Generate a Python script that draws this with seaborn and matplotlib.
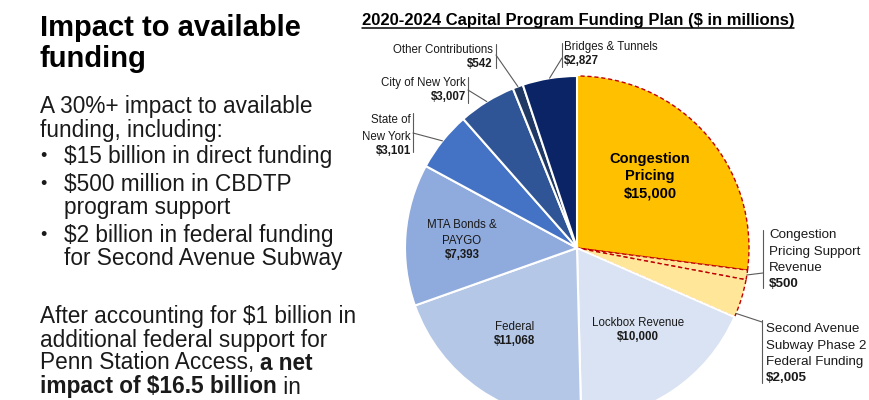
import numpy as np
import matplotlib
matplotlib.use("Agg")
import matplotlib.pyplot as plt
import seaborn as sns

# Funding sources, clockwise from 12 o'clock ($ in millions)
sources = [
    "Congestion\nPricing",
    "Congestion\nPricing Support\nRevenue",
    "Second Avenue\nSubway Phase 2\nFederal Funding",
    "Lockbox Revenue",
    "Federal",
    "MTA Bonds &\nPAYGO",
    "State of\nNew York",
    "City of New York",
    "Other Contributions",
    "Bridges & Tunnels",
]
amounts = [15000, 500, 2005, 10000, 11068, 7393, 3101, 3007, 542, 2827]
colors = ["#FFC000", "#FFE699", "#FFE699", "#DAE3F3", "#B4C7E7",
          "#8FAADC", "#4472C4", "#2F5597", "#203864", "#0A2466"]
congestion_related = [0, 1, 2]

heading = ["Impact to available", "funding"]
intro = ["A 30%+ impact to available", "funding, including:"]
bullets = [["$15 billion in direct funding"],
           ["$500 million in CBDTP", "program support"],
           ["$2 billion in federal funding", "for Second Avenue Subway"]]
chart_title = "2020-2024 Capital Program Funding Plan ($ in millions)"

sns.set_theme(style="white")
plt.rcParams["font.family"] = ["Liberation Sans", "DejaVu Sans"]

TXT = "#1a1a1a"
LINE = "#5a5a5a"
H = 400
BODY = 16.3

fig = plt.figure(figsize=(8.7, 4), dpi=100)
ax = fig.add_axes([0, 0, 1, 1])


def Y(y):
    # layout helper: pixel rows from the top
    return H - y


# ---- left text block
ax.text(40, Y(28), heading[0], fontsize=21, fontweight="bold", color="black", va="center")
ax.text(40, Y(59), heading[1], fontsize=21, fontweight="bold", color="black", va="center")

y = 107
for line in intro:
    ax.text(40, Y(y), line, fontsize=BODY, color=TXT, va="center")
    y += 23
y += 4
for item in bullets:
    ax.text(40, Y(y), "\u2022", fontsize=13, color=TXT, va="center")
    for line in item:
        ax.text(64, Y(y), line, fontsize=BODY, color=TXT, va="center")
        y += 23
    y += 5

ax.text(40, Y(317), "After accounting for $1 billion in", fontsize=BODY, color=TXT, va="center")
ax.text(40, Y(340), "additional federal support for", fontsize=BODY, color=TXT, va="center")
t3 = ax.text(40, Y(363), "Penn Station Access, ", fontsize=BODY, color=TXT, va="center")
ax.annotate("a net", xy=(1, 0), xycoords=t3, fontsize=BODY, fontweight="bold",
            color=TXT, va="bottom", ha="left")
t4 = ax.text(40, Y(387), "impact of $16.5 billion", fontsize=BODY, fontweight="bold",
             color=TXT, va="center")
ax.annotate(" in", xy=(1, 0), xycoords=t4, fontsize=BODY, color=TXT, va="bottom", ha="left")

# ---- pie
cx, cy, R = 577, Y(248), 172
wedges, _ = ax.pie(amounts, colors=colors, startangle=90, counterclock=False,
                   center=(cx, cy), radius=R,
                   wedgeprops=dict(edgecolor="white", linewidth=1.5))
for i in congestion_related:
    wedges[i].set_edgecolor("#C00000")
    wedges[i].set_linestyle((0, (3, 2)))
    wedges[i].set_linewidth(1.0)

ax.set_xlim(0, 870)
ax.set_ylim(0, H)
ax.set_aspect("equal")
ax.axis("off")


def money(v):
    return "$" + format(v, ",")


# chart title with underline
tt = ax.text(578, Y(21), chart_title, fontsize=12, fontweight="bold", color="black",
             ha="center", va="center")

# inner labels: index -> (x, top y, fontsize)
inner = {3: (638, 317, 8.3), 4: (515, 321, 8.3), 5: (462, 219, 8.3)}
for i, (x, top, fs) in inner.items():
    nt = ax.text(x, Y(top), sources[i], fontsize=fs, color=TXT, ha="center", va="top",
                 linespacing=1.45)
    ax.annotate(money(amounts[i]), xy=(0.5, 0), xycoords=nt, xytext=(0, -1.5),
                textcoords="offset points", fontsize=fs,
                fontweight="bold", color=TXT, ha="center", va="top")

ax.text(650, Y(176), sources[0] + "\n" + money(amounts[0]), fontsize=10.5,
        fontweight="bold", color="black", ha="center", va="center", linespacing=1.3)

# outer labels: index -> (text x, top y, align, bar x, bar top, bar bottom, leader y, frac, fontsize)
outer = {
    8: (493, 44, "right", 496, 44, 68, 55, 0.5, 8.3),
    7: (466, 77, "right", 468, 77, 103, 90, 0.5, 8.3),
    6: (411, 114, "right", 413, 113, 152, 133, 0.5, 8.3),
    9: (564, 41, "left", 562, 43, 67, 58, 0.5, 8.3),
    1: (769, 229, "left", 763, 230, 288, 273, 0.5, 9.6),
    2: (766, 323, "left", 762, 320, 383, 322, 0.1, 9.6),
}
for i, (x, top, al, bx, b0, b1, ly, frac, fs) in outer.items():
    nt = ax.text(x, Y(top), sources[i], fontsize=fs, color=TXT, ha=al, va="top",
                 linespacing=1.5)
    ax.annotate(money(amounts[i]), xy=(0 if al == "left" else 1, 0), xycoords=nt,
                xytext=(0, -1.5 if fs < 9 else -3), textcoords="offset points",
                fontsize=fs, fontweight="bold", color=TXT, ha=al, va="top")
    ax.plot([bx, bx], [Y(b0), Y(b1)], color=LINE, lw=0.8)
    w = wedges[i]
    ang = np.deg2rad(w.theta1 + frac * (w.theta2 - w.theta1))
    ax.plot([bx, cx + R * np.cos(ang)], [Y(ly), cy + R * np.sin(ang)], color=LINE, lw=0.8)

fig.canvas.draw()
bb = tt.get_window_extent().transformed(ax.transData.inverted())
ax.plot([bb.x0, bb.x1], [bb.y0 + 1, bb.y0 + 1], color="black", lw=1.1)

fig.savefig("out.png", dpi=100)
